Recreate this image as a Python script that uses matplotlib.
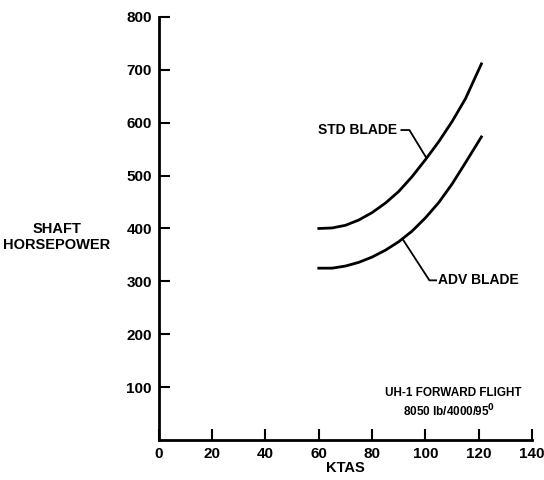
import numpy as np
import matplotlib
matplotlib.use("Agg")
import matplotlib.pyplot as plt

plt.rcParams['font.family'] = ['Liberation Sans', 'DejaVu Sans']
plt.rcParams['font.weight'] = 'bold'

# curves
ktas = [60, 65, 70, 75, 80, 85, 90, 95, 100, 105, 110, 115, 121]
std_blade = [400, 401, 406, 416, 430, 448, 470, 498, 530, 564, 602, 645, 711]
adv_blade = [325, 325, 329, 336, 346, 359, 375, 395, 420, 449, 484, 524, 573]

x_ticks = [0, 20, 40, 60, 80, 100, 120, 140]
y_ticks = [100, 200, 300, 400, 500, 600, 700, 800]

fig = plt.figure(figsize=(5.44, 4.8), dpi=100)
ax = fig.add_axes([0.292, 0.083, 0.686, 0.882])

ax.plot(ktas, std_blade, color='black', lw=2)
ax.plot(ktas, adv_blade, color='black', lw=2)

ax.set_xlim(0, 140)
ax.set_ylim(0, 800)
ax.set_xticks(x_ticks)
ax.set_yticks(y_ticks)
ax.tick_params(direction='in', length=8, width=1.5, labelsize=11, pad=5)
for lab in ax.get_xticklabels() + ax.get_yticklabels():
    lab.set_fontweight('bold')
ax.spines['top'].set_visible(False)
ax.spines['right'].set_visible(False)
ax.spines['left'].set_linewidth(2)
ax.spines['bottom'].set_linewidth(2)

# leader lines and labels
ax.plot([91, 94, 100.4], [586, 586, 533], color='black', lw=1.3)
ax.text(89.5, 586, "STD BLADE", ha='right', va='center', fontsize=10)
ax.plot([91.7, 101.5, 104], [378, 302, 302], color='black', lw=1.3)
ax.text(104.6, 302, "ADV BLADE", ha='left', va='center', fontsize=10)

ax.text(110.6, 89, "UH-1 FORWARD FLIGHT", ha='center', va='center', fontsize=8.5)
ax.text(108.7, 55, "8050 lb/4000/95$^{\\mathbf{0}}$", ha='center', va='center', fontsize=8.5)

fig.text(57 / 544, 1 - 237 / 480, "SHAFT\nHORSEPOWER", ha='center', va='center',
         fontsize=10.5, linespacing=1.15)
fig.text(345 / 544, 1 - 468 / 480, "KTAS", ha='center', va='center', fontsize=10.5)

fig.savefig("out.png", dpi=100)
